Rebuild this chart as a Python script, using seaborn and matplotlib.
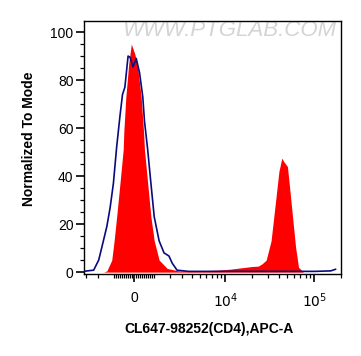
import numpy as np
import matplotlib
matplotlib.use("Agg")
import matplotlib.pyplot as plt
import seaborn as sns

# sample (red filled) histogram: fluorescence value vs % of mode
sample_x = [-1650, -1444, -1152, -1019, -880, -703, -536, -501, -402, -256, -130,
            34, 159, 353, 471, 521, 687, 858, 1041, 1324, 1844, 2724,
            4738, 8056, 11250, 15310, 19740, 23580, 26090, 28900, 32800, 37240,
            40200, 43350, 45580, 50060, 53070, 56800, 61800, 66700, 75700]
sample_y = [0, 0.5, 5, 13, 23, 37, 51, 59, 73, 87, 95,
            91, 87, 73, 59, 51, 37, 23, 13, 5, 1.5, 0.5,
            0.5, 0.8, 1.2, 1.8, 2.3, 2.5, 3.5, 5, 13, 31,
            42, 47.5, 46, 44, 35, 24, 10.5, 2, 0]

# isotype / unstained control (navy outline)
control_x = [-3194, -2899, -2357, -1982, -1759, -1444, -1243, -1058, -880, -703,
             -571, -451, -290, -193, -48, 111, 275, 436, 521, 687, 858, 1041,
             1324, 1628, 1961, 2199, 2579, 3652, 20000, 102400, 153600, 174400]
control_y = [0.3, 0.5, 0.8, 5, 10.5, 19, 27, 37, 52, 65,
             74, 77, 90, 89.5, 85.5, 89, 83, 73, 63, 51, 37, 23,
             13, 8, 6.7, 3.7, 0.8, 0.3, 0.3, 0.3, 0.5, 1.2]

x_major = [0, 10000, 100000]
x_major_labels = ["0", "$10^4$", "$10^5$"]
x_minor = ([-3000, -2000] + list(range(-1000, 1001, 100))
           + list(range(2000, 10000, 1000)) + list(range(20000, 100000, 10000))
           + [200000])

W = 1900.0


def fwd(x):
    return np.arcsinh(np.asarray(x, dtype=float) / W) / np.log(10)


def inv(y):
    return W * np.sinh(np.asarray(y, dtype=float) * np.log(10))


sns.set_theme(style="ticks", rc={"text.color": "black", "axes.labelcolor": "black",
                                 "xtick.color": "black", "ytick.color": "black"})
plt.rcParams["font.family"] = ["Liberation Sans", "DejaVu Sans"]

fig = plt.figure(figsize=(3.61, 3.56), dpi=100)
ax = fig.add_axes([0.2327, 0.2303, 0.7119, 0.7107])
ax.set_xscale("function", functions=(fwd, inv))

ax.fill_between(sample_x, sample_y, 0, color="#ff0000", lw=0, zorder=2)
sns.lineplot(x=control_x, y=control_y, sort=False, color="#0a0a80",
             lw=1.2, ax=ax, zorder=3)

ax.set_xlim(-3194, 174400)
ax.set_ylim(-0.8, 104.6)

ax.set_xticks(x_major)
ax.set_xticklabels(x_major_labels)
ax.set_xticks(x_minor, minor=True)
ax.set_yticks([0, 20, 40, 60, 80, 100])
ax.set_yticks(np.arange(0, 101, 5), minor=True)

ax.tick_params(axis="both", which="major", length=5.5, width=1.2,
               labelsize=10, pad=2)
ax.tick_params(axis="both", which="minor", length=3, width=0.9)
ax.tick_params(axis="x", which="major", pad=7)

for sp in ax.spines.values():
    sp.set_color("black")
    sp.set_linewidth(1.0)
    sp.set_visible(True)

ax.set_xlabel("CL647-98252(CD4),APC-A", fontsize=10, fontweight="bold")
ax.set_ylabel("Normalized To Mode", fontsize=10, fontweight="bold")
ax.xaxis.set_label_coords(0.488, -0.19)
ax.yaxis.set_label_coords(-0.185, 0.536)

ax.text(0.565, 0.962, "WWW.PTGLAB.COM", transform=ax.transAxes,
        ha="center", va="center", fontsize=16, style="italic",
        color="#d4d4d4", zorder=1)

fig.savefig("out.png", dpi=100)
